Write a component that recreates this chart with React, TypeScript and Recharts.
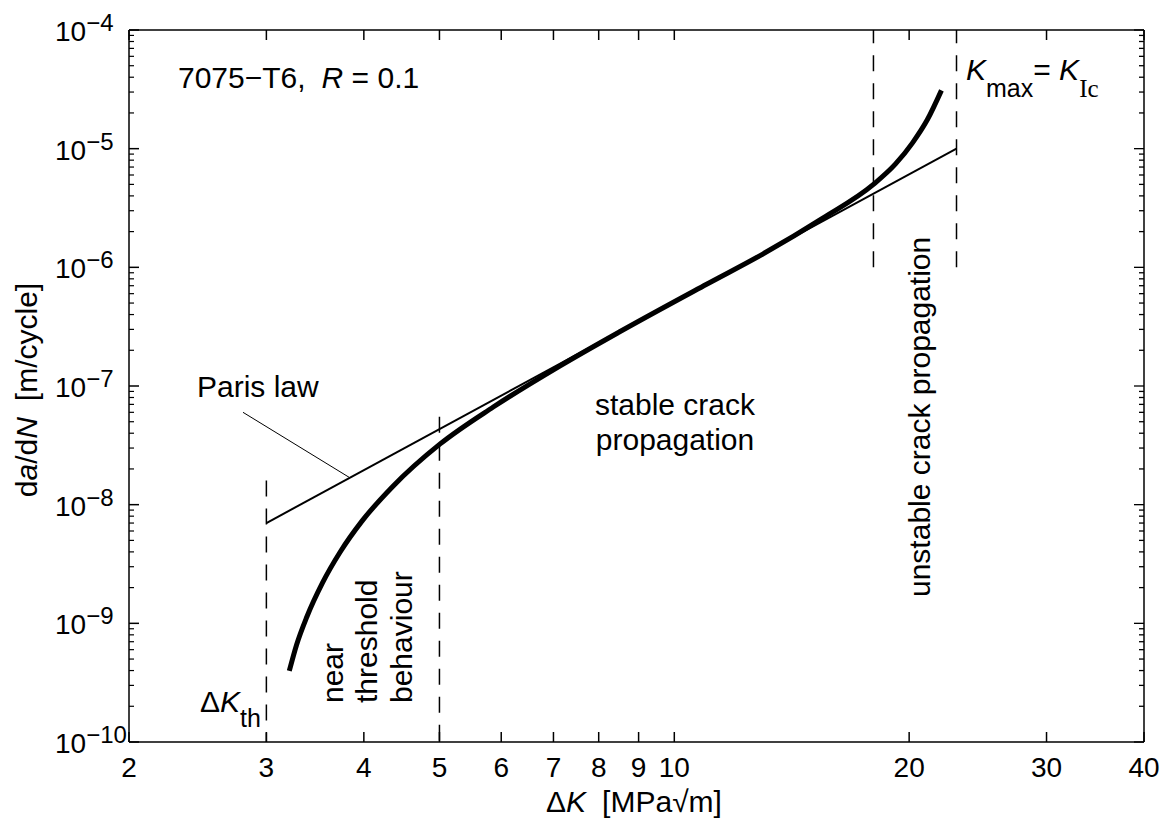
import React from "react";
import { LineChart, Line, XAxis, YAxis } from "recharts";

const FONT = "'Liberation Sans', Arial, Helvetica, sans-serif";

// axis ticks
const X_TICKS = [2, 3, 4, 5, 6, 7, 8, 9, 10, 20, 30, 40];
const Y_MAJOR_TICKS = [1e-10, 1e-9, 1e-8, 1e-7, 1e-6, 1e-5, 1e-4];
const Y_DECADES = [-10, -9, -8, -7, -6, -5];
const MINOR_MANTISSAS = [2, 3, 4, 5, 6, 7, 8, 9];
const Y_MINOR_TICKS = Y_DECADES.flatMap((e) =>
  MINOR_MANTISSAS.map((m) => m * Math.pow(10, e))
);
const Y_TICKS = [...Y_MAJOR_TICKS, ...Y_MINOR_TICKS].sort((a, b) => a - b);

// da/dN curve (7075-T6, R = 0.1)
const CURVE_DK = [3.21, 3.28, 3.38, 3.54, 3.73, 3.98, 4.35, 5.01, 5.86, 7.14, 8.5, 11, 13, 15.5, 18, 19.2, 20.2, 21.1, 22];
const CURVE_RATE = [3.97e-10, 6.6e-10, 1.13e-9, 2.19e-9, 3.99e-9, 7.3e-9, 1.41e-8, 3.25e-8, 6.65e-8, 1.48e-7, 2.85e-7, 7.2e-7, 1.3e-6, 2.6e-6, 5.0e-6, 7.4e-6, 1.12e-5, 1.75e-5, 3.1e-5];

// Paris law line
const PARIS_DK = [3, 23];
const PARIS_RATE = [7.0e-9, 1.0e-5];

// pointer from "Paris law" label
const LEADER_DK = [2.8, 3.83];
const LEADER_RATE = [6.0e-8, 1.7e-8];

// dashed region markers
const MARKER_DK = [3, 5, 18, 23];
const MARKER_FROM = [1.6e-8, 5.5e-8, 1e-6, 1e-6];
const MARKER_TO = [1e-10, 1e-10, 1e-4, 1e-4];

const toPoints = (xs: number[], ys: number[]) => xs.map((x, i) => ({ x, y: ys[i] }));

const curveData = toPoints(CURVE_DK, CURVE_RATE);
const parisData = toPoints(PARIS_DK, PARIS_RATE);
const leaderData = toPoints(LEADER_DK, LEADER_RATE);
const markers = MARKER_DK.map((x, i) => [
  { x, y: MARKER_FROM[i] },
  { x, y: MARKER_TO[i] },
]);

const isMajor = (v: number) => {
  const l = Math.log10(v);
  return Math.abs(l - Math.round(l)) < 1e-6;
};

const BottomTick = (props: any) => {
  const { x, y, payload } = props;
  return (
    <g>
      <line x1={x} y1={y} x2={x} y2={y - 10} stroke="#000" strokeWidth={1.5} />
      <text x={x} y={y + 35} textAnchor="middle" fontSize={28} fontFamily={FONT} fill="#000">
        {payload.value}
      </text>
    </g>
  );
};

const TopTick = (props: any) => {
  const { x, y } = props;
  return <line x1={x} y1={y} x2={x} y2={y + 10} stroke="#000" strokeWidth={1.5} />;
};

const LeftTick = (props: any) => {
  const { x, y, payload } = props;
  if (!isMajor(payload.value)) {
    return <line x1={x} y1={y} x2={x + 5} y2={y} stroke="#000" strokeWidth={1.2} />;
  }
  const exp = Math.round(Math.log10(payload.value));
  return (
    <g>
      <line x1={x} y1={y} x2={x + 10} y2={y} stroke="#000" strokeWidth={1.5} />
      <text x={x - 74} y={y + 11} fontSize={28} fontFamily={FONT} fill="#000">
        10
        <tspan fontSize={24} dy={-10}>
          {"\u2212" + Math.abs(exp)}
        </tspan>
      </text>
    </g>
  );
};

const RightTick = (props: any) => {
  const { x, y, payload } = props;
  const len = isMajor(payload.value) ? 10 : 5;
  return <line x1={x} y1={y} x2={x - len} y2={y} stroke="#000" strokeWidth={1.3} />;
};

export default function App() {
  const logX = { type: "number" as const, scale: "log" as const, domain: [2, 40], allowDataOverflow: true, dataKey: "x" };
  const logY = { type: "number" as const, scale: "log" as const, domain: [1e-10, 1e-4], allowDataOverflow: true };
  const axisLine = { stroke: "#000", strokeWidth: 1.5 };

  return (
    <div style={{ position: "absolute", left: 0, top: 0, width: 1167, height: 821, background: "#fff" }}>
      <LineChart width={1167} height={821} margin={{ top: 29, right: 22, bottom: 78, left: 128 }}>
        <XAxis
          xAxisId="b"
          orientation="bottom"
          {...logX}
          ticks={X_TICKS}
          interval={0}
          height={1}
          tickSize={0}
          tickMargin={0}
          tickLine={false}
          tick={<BottomTick />}
          axisLine={axisLine}
        />
        <XAxis
          xAxisId="t"
          orientation="top"
          {...logX}
          ticks={X_TICKS}
          interval={0}
          height={1}
          tickSize={0}
          tickMargin={0}
          tickLine={false}
          tick={<TopTick />}
          axisLine={axisLine}
        />
        <YAxis
          yAxisId="l"
          orientation="left"
          {...logY}
          ticks={Y_TICKS}
          interval={0}
          width={1}
          tickSize={0}
          tickMargin={0}
          tickLine={false}
          tick={<LeftTick />}
          axisLine={axisLine}
        />
        <YAxis
          yAxisId="r"
          orientation="right"
          {...logY}
          ticks={Y_TICKS}
          interval={0}
          width={1}
          tickSize={0}
          tickMargin={0}
          tickLine={false}
          tick={<RightTick />}
          axisLine={axisLine}
        />

        {markers.map((d, i) => (
          <Line
            key={"m" + i}
            xAxisId="b"
            yAxisId="l"
            data={d}
            dataKey="y"
            type="linear"
            stroke="#000"
            strokeWidth={1.5}
            strokeDasharray="16 12"
            dot={false}
            activeDot={false}
            isAnimationActive={false}
          />
        ))}

        <Line
          xAxisId="b"
          yAxisId="l"
          data={leaderData}
          dataKey="y"
          type="linear"
          stroke="#000"
          strokeWidth={1}
          dot={false}
          activeDot={false}
          isAnimationActive={false}
        />
        <Line
          xAxisId="b"
          yAxisId="l"
          data={parisData}
          dataKey="y"
          type="linear"
          stroke="#000"
          strokeWidth={2}
          dot={false}
          activeDot={false}
          isAnimationActive={false}
        />
        <Line
          xAxisId="b"
          yAxisId="l"
          data={curveData}
          dataKey="y"
          type="monotone"
          stroke="#000"
          strokeWidth={5}
          dot={false}
          activeDot={false}
          isAnimationActive={false}
        />
      </LineChart>

      {/* annotations */}
      <svg
        width={1167}
        height={821}
        style={{ position: "absolute", left: 0, top: 0, pointerEvents: "none" }}
        fontFamily={FONT}
        fill="#000"
      >
        <text x={178} y={88} fontSize={30}>
          {"7075\u2212T6,"}
          <tspan dx={16} fontStyle="italic">R</tspan>
          {" = 0.1"}
        </text>

        <text x={966} y={80} fontSize={30}>
          <tspan fontStyle="italic">K</tspan>
          <tspan fontSize={25} dy={17}>max</tspan>
          <tspan dy={-17}>{"= "}</tspan>
          <tspan fontStyle="italic">K</tspan>
          <tspan fontSize={25} dy={17} fontFamily="'Liberation Serif', 'Times New Roman', serif">Ic</tspan>
        </text>

        <text x={200} y={712} fontSize={30}>
          {"\u0394"}
          <tspan fontStyle="italic">K</tspan>
          <tspan fontSize={25} dy={15}>th</tspan>
        </text>

        <text x={197} y={397} fontSize={30}>Paris law</text>

        <text x={675} y={415} fontSize={30} textAnchor="middle">stable crack</text>
        <text x={675} y={450} fontSize={30} textAnchor="middle">propagation</text>

        <text x={343} y={703} fontSize={30} transform="rotate(-90 343 703)">near</text>
        <text x={377} y={703} fontSize={30} transform="rotate(-90 377 703)">threshold</text>
        <text x={412} y={703} fontSize={30} transform="rotate(-90 412 703)">behaviour</text>

        <text x={930} y={597} fontSize={30} transform="rotate(-90 930 597)">unstable crack propagation</text>

        <text x={634} y={812} fontSize={30} textAnchor="middle">
          {"\u0394"}
          <tspan fontStyle="italic">K</tspan>
          <tspan dx={16}>[MPa{"\u221A"}m]</tspan>
        </text>

        <text x={37} y={390} fontSize={30} textAnchor="middle" transform="rotate(-90 37 390)">
          {"d"}
          <tspan fontStyle="italic">a</tspan>
          {"/d"}
          <tspan fontStyle="italic">N</tspan>
          <tspan dx={16}>[m/cycle]</tspan>
        </text>
      </svg>
    </div>
  );
}
